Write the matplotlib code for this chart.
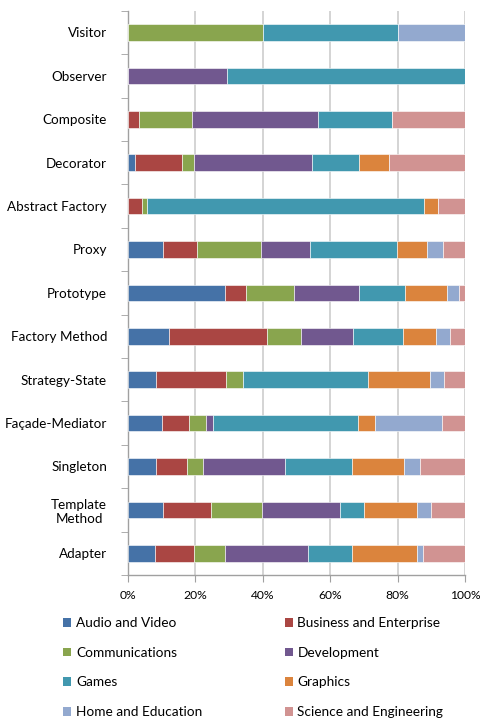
import matplotlib
matplotlib.use("Agg")
import matplotlib.pyplot as plt
import numpy as np
from matplotlib.patches import Patch
from matplotlib.ticker import FuncFormatter, FixedLocator

plt.rcParams['font.family'] = ['Lato', 'DejaVu Sans']

# categories, top to bottom
patterns = ['Visitor', 'Observer', 'Composite', 'Decorator', 'Abstract Factory',
            'Proxy', 'Prototype', 'Factory Method', 'Strategy-State',
            'Façade-Mediator', 'Singleton', 'Template\nMethod', 'Adapter']

series_names = ['Audio and Video', 'Business and Enterprise', 'Communications',
                'Development', 'Games', 'Graphics', 'Home and Education',
                'Science and Engineering']

audio = [0, 0, 0, 2.1, 0, 10.4, 28.8, 12.3, 8.4, 10.1, 8.4, 10.5, 8.1]
business = [0, 0, 3.3, 13.8, 4.3, 10.1, 6.1, 29.0, 20.7, 8.1, 9.1, 14.1, 11.6]
comm = [40.2, 0, 15.7, 3.7, 1.4, 19.0, 14.2, 10.1, 5.1, 4.9, 4.8, 15.1, 9.1]
dev = [0, 29.3, 37.5, 34.9, 0, 14.5, 19.4, 15.3, 0, 2.2, 24.4, 23.3, 24.7]
games = [39.8, 70.7, 21.9, 14.1, 82.1, 25.9, 13.6, 14.9, 36.9, 42.8, 19.7, 7.1, 13.0]
graphics = [0, 0, 0, 8.8, 4.2, 8.8, 12.5, 9.7, 18.5, 5.1, 15.6, 15.5, 19.1]
home = [20.0, 0, 0, 0, 0, 4.6, 3.7, 4.2, 4.0, 19.8, 4.7, 4.4, 1.8]
science = [0, 0, 21.6, 22.6, 8.0, 6.7, 1.7, 4.5, 6.4, 6.9, 13.3, 9.9, 12.7]

colors = ['#4572A7', '#AA4643', '#89A54E', '#71588F', '#4198AF',
          '#DB843D', '#93A9CF', '#D19392']

data = [audio, business, comm, dev, games, graphics, home, science]

fig = plt.figure(figsize=(4.81, 7.2), dpi=100)
ax = fig.add_axes([0.266, 0.2014, 0.701, 0.7836])

y = np.arange(len(patterns))
left = np.zeros(len(patterns))
for vals, c in zip(data, colors):
    vals = np.array(vals, dtype=float)
    ax.barh(y, vals, left=left, height=0.385, color=c, edgecolor='white',
            linewidth=0.4, zorder=3)
    left += vals

ax.set_xlim(0, 100)
ax.set_ylim(len(patterns) - 0.5, -0.5)
ax.set_xticks([0, 20, 40, 60, 80, 100])
ax.xaxis.set_major_formatter(FuncFormatter(lambda v, p: f"{int(v)}%"))
ax.grid(True, axis='x', color='#d4d4d4', linewidth=1.4, zorder=0)

ax.set_yticks(y)
ax.set_yticklabels(patterns, fontsize=9.7, ha='right', multialignment='center')
ax.yaxis.set_minor_locator(FixedLocator(np.arange(-0.5, len(patterns), 1.0)))
ax.tick_params(axis='y', which='major', length=0, pad=15)
ax.tick_params(axis='y', which='minor', length=5, color='#a0a0a0', direction='out')
ax.tick_params(axis='x', length=5, color='#a0a0a0', direction='out',
               labelsize=8.7, pad=6)

for s in ['top', 'right']:
    ax.spines[s].set_visible(False)
for s in ['left', 'bottom']:
    ax.spines[s].set_color('#a0a0a0')
    ax.spines[s].set_linewidth(1.0)

handles = [Patch(facecolor=c, edgecolor='none') for c in colors]
order = [0, 2, 4, 6, 1, 3, 5, 7]
fig.legend([handles[i] for i in order], [series_names[i] for i in order],
           ncol=2, loc='upper left', bbox_to_anchor=(0.131, 0.143),
           frameon=False, fontsize=9.8, handlelength=0.6, handleheight=0.6,
           handletextpad=0.35, columnspacing=6.05, labelspacing=1.3,
           borderaxespad=0, borderpad=0)

fig.savefig('out.png', dpi=100)
